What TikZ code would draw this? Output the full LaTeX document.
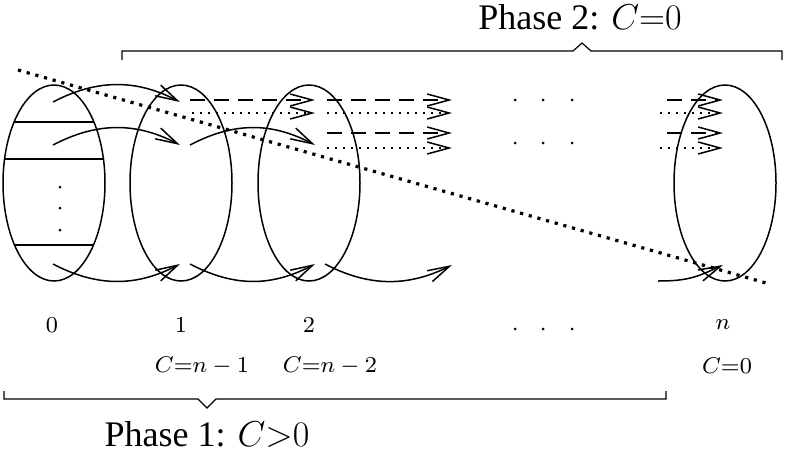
\RequirePackage{fix-cm}
\documentclass[tikz,border=0pt]{standalone}
\usepackage{fontspec}
\setmainfont{Liberation Serif}
\usetikzlibrary{arrows.meta,shapes.geometric}
\begin{document}
\begin{tikzpicture}[x=1pt,y=-1pt,line width=1.5pt,
  stateell/.style={draw,ellipse,minimum width=102pt,minimum height=196pt,inner sep=0pt},
  arr/.style={-{Straight Barb[length=22pt,width=12pt]}},
  dasharr/.style={arr,dash pattern=on 15pt off 9pt},
  dotarr/.style={arr,dash pattern=on 1.6pt off 6.4pt},
  diag/.style={line width=3.2pt,dash pattern=on 3.2pt off 5.8pt},
  bracket/.style={line width=1.2pt},
  dotn/.style={circle,fill,inner sep=0pt,minimum size=3pt},
  lbl/.style={inner sep=0pt,font=\fontsize{8}{9}\selectfont,scale=2.85,transform shape},
  phase/.style={inner sep=0pt,font=\fontsize{36}{42}\selectfont}]
\useasboundingbox (0,0) rectangle (786,453);
% ellipses
\node[stateell] (e0) at (54,183) {};
\node[stateell] (e1) at (181,183) {};
\node[stateell] (e2) at (309,183) {};
\node[stateell] (en) at (725,183) {};
% chords in ellipse 0
\draw (14,122) -- (94,122);
\draw (4.5,159) -- (103.5,159);
\draw (14.5,245) -- (93.5,245);
% vertical dots
\node[dotn] (v1) at (60,187) {};
\node[dotn] (v2) at (60,208) {};
\node[dotn] (v3) at (60,230) {};
% horizontal dots
\foreach \x [count=\i] in {515,543,572}{
  \node[dotn] (ha\i) at (\x,100) {};
  \node[dotn] (hb\i) at (\x,143) {};
  \node[dotn] (hc\i) at (\x,329) {};
}
% coordinates for curved arrows
\coordinate (s0a) at (53,102); \coordinate (t1a) at (180,102);
\coordinate (s0b) at (53,145); \coordinate (t1b) at (180,145);
\coordinate (s0c) at (53,264); \coordinate (t1c) at (180,264);
\coordinate (s1b) at (190,145); \coordinate (t2b) at (315,145);
\coordinate (s1c) at (190,264); \coordinate (t2c) at (315,264);
\coordinate (s2c) at (325,264); \coordinate (t3c) at (452,265);
\coordinate (snc) at (658,281); \coordinate (tnc) at (723,265);
\draw[arr] (s0a) .. controls +(44,-23) and +(-44,-23) .. (t1a);
\draw[arr] (s0b) .. controls +(44,-23) and +(-44,-23) .. (t1b);
\draw[arr] (s0c) .. controls +(44,23) and +(-44,23) .. (t1c);
\draw[arr] (s1b) .. controls +(44,-23) and +(-44,-23) .. (t2b);
\draw[arr] (s1c) .. controls +(44,23) and +(-44,23) .. (t2c);
\draw[arr] (s2c) .. controls +(44,23) and +(-44,22) .. (t3c);
\draw[arr] (snc) .. controls +(30,0) and +(-26,12) .. (tnc);
% straight arrows
\coordinate (d1s) at (190,100); \coordinate (d1t) at (315,100);
\coordinate (o1s) at (192,113); \coordinate (o1t) at (315,113);
\coordinate (d2s) at (327,100); \coordinate (d2t) at (452,100);
\coordinate (o2s) at (327,113); \coordinate (o2t) at (452,113);
\coordinate (d3s) at (327,133); \coordinate (d3t) at (452,133);
\coordinate (o3s) at (327,148); \coordinate (o3t) at (452,148);
\coordinate (d4s) at (667,100); \coordinate (d4t) at (723,100);
\coordinate (o4s) at (660,113); \coordinate (o4t) at (723,113);
\coordinate (d5s) at (667,133); \coordinate (d5t) at (723,133);
\coordinate (o5s) at (660,148); \coordinate (o5t) at (723,148);
\draw[dasharr] (d1s) -- (d1t);
\draw[dotarr] (o1s) -- (o1t);
\draw[dasharr] (d2s) -- (d2t);
\draw[dotarr] (o2s) -- (o2t);
\draw[dasharr] (d3s) -- (d3t);
\draw[dotarr] (o3s) -- (o3t);
\draw[dasharr] (d4s) -- (d4t);
\draw[dotarr] (o4s) -- (o4t);
\draw[dasharr] (d5s) -- (d5t);
\draw[dotarr] (o5s) -- (o5t);
% diagonal
\coordinate (dg1) at (18,70); \coordinate (dg2) at (766,283);
\draw[diag] (dg1) -- (dg2);
% labels
\node[lbl] (l0) at (52,325) {$0$};
\node[lbl] (l1) at (181,325) {$1$};
\node[lbl] (l2) at (309,325) {$2$};
\node[lbl] (ln) at (723,325) {$n$};
\node[lbl] (c1) at (202,366) {$C{=}n-1$};
\node[lbl] (c2) at (330,366) {$C{=}n-2$};
\node[lbl] (cn) at (727,366) {$C{=}0$};
% brackets
\draw[bracket] (122,60) -- (122,51) -- (573,51) -- (582,43) -- (591,51) -- (782,51) -- (782,60);
\draw[bracket] (4,391) -- (4,399) -- (198,399) -- (207,408) -- (216,399) -- (666,399) -- (666,391);
\node[phase] (p2) at (580,17) {Phase 2: $C{=}0$};
\node[phase] (p1) at (207,434.5) {Phase 1: $C{>}0$};
\end{tikzpicture}
\end{document}
